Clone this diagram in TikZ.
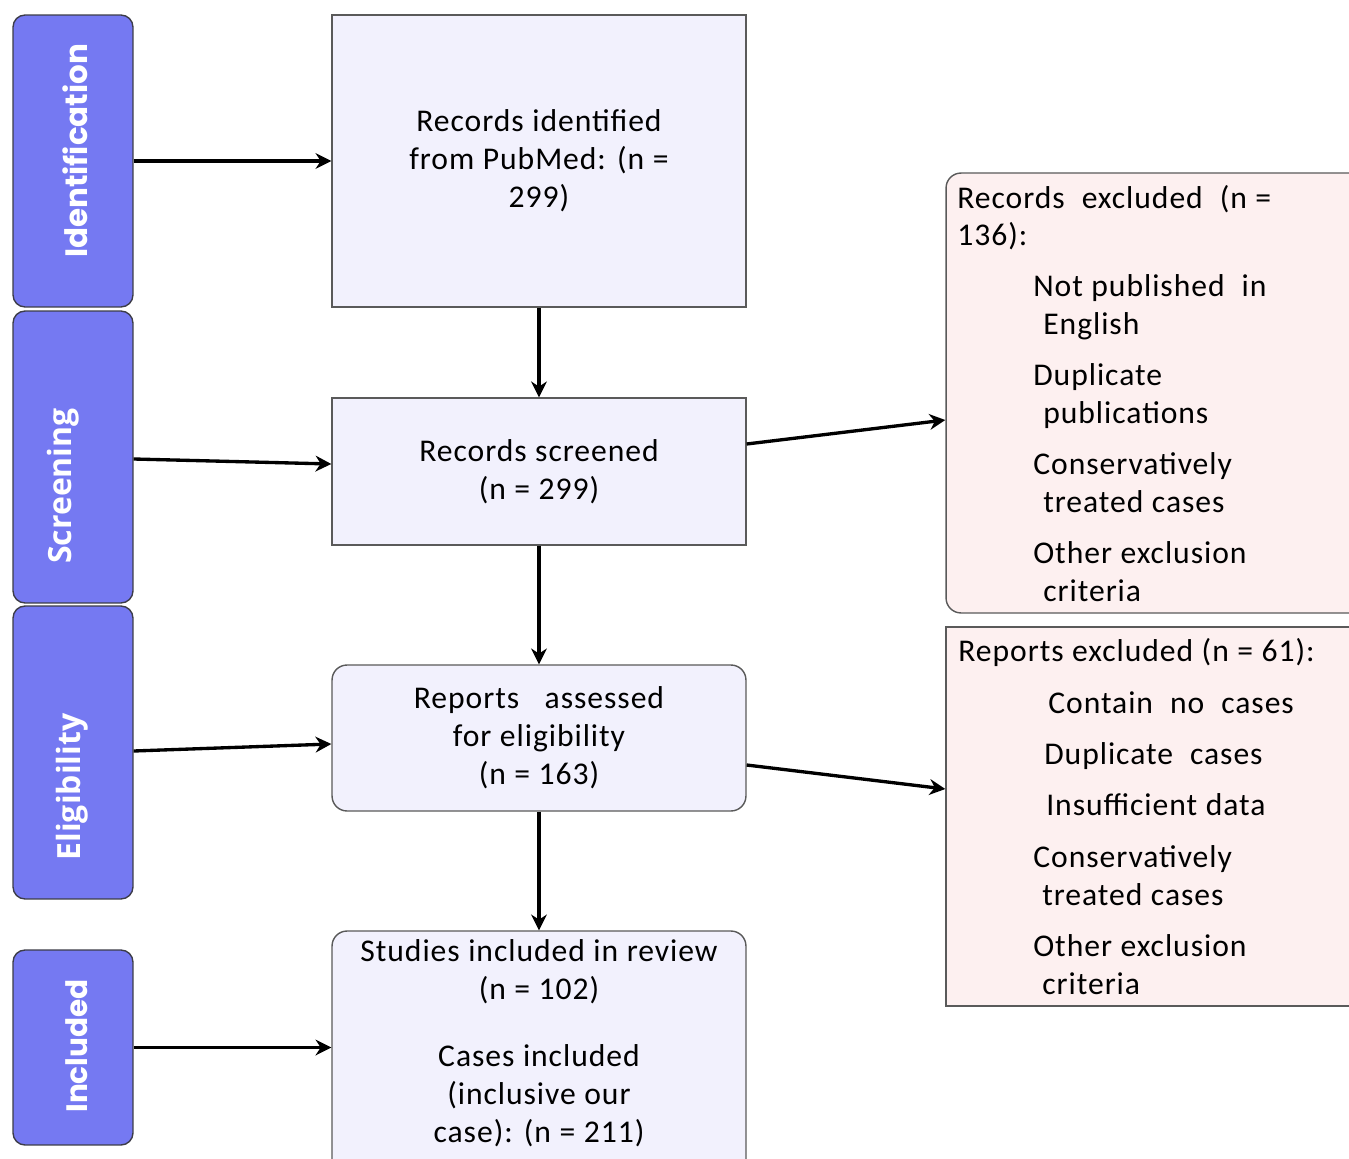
\documentclass[tikz,border=0pt]{standalone}
\usepackage{fontspec}
\setmainfont{Carlito}[LetterSpace=3,WordSpace=1.05]
\newfontfamily\labA{Poppins}
\newfontfamily\labB{Open Sans}
\usetikzlibrary{arrows.meta,calc}
\definecolor{phaseblue}{RGB}{117,121,242}
\definecolor{lav}{RGB}{242,241,253}
\definecolor{pinkbg}{RGB}{253,240,240}
\definecolor{edgegray}{RGB}{90,90,90}
\definecolor{phaseedge}{RGB}{60,60,72}
\newcommand{\mainsize}{\fontsize{18}{21.6}\selectfont}
\tikzset{
  phase/.style={draw=phaseedge, line width=0.8pt, fill=phaseblue, rounded corners=0.24cm,
    minimum width=2.4cm, inner sep=0pt},
  lab/.style={text=white, rotate=90, anchor=base, inner sep=0pt},
  flowbox/.style={draw=edgegray, line width=0.8pt, fill=lav, minimum width=8.28cm,
    inner sep=0pt, align=center, font=\mainsize},
  exbox/.style={draw=edgegray, line width=0.8pt, fill=pinkbg, minimum width=8.38cm, inner sep=0pt},
  exline/.style={anchor=base west, inner sep=0pt, font=\mainsize},
  arr/.style={line width=1.9pt, -{Stealth[length=9pt,width=9pt]}}
}
\begin{document}
\begin{tikzpicture}[x=0.02cm,y=-0.02cm]
\useasboundingbox (0,0) rectangle (1349,1159);
\clip (0,0) rectangle (1349,1159);
\fill[white] (0,0) rectangle (1349,1159);

% phase bars
\node[phase, minimum height=5.84cm] (pid) at (73,161) {};
\node[phase, minimum height=5.84cm] (psc) at (73,457) {};
\node[phase, minimum height=5.86cm] (pel) at (73,752.5) {};
\node[phase, minimum height=3.9cm] (pin) at (73,1047.5) {};
\node[lab, font=\labA\bfseries\fontsize{17.6}{22}\selectfont] (tid) at (87,151) {Identification};
\node[lab, font=\labB\bfseries\fontsize{18.2}{22}\selectfont] (tsc) at (71,486) {Screening};
\node[lab, font=\labB\bfseries\fontsize{18.2}{22}\selectfont] (tel) at (80,787) {Eligibility};
\node[lab, font=\labA\bfseries\fontsize{16.8}{22}\selectfont] (tin) at (87,1046) {Included};

% main boxes
\node[flowbox, minimum height=5.84cm] (b1) at (539,161) {Records identified\\from PubMed: (n =\\299)};
\node[flowbox, minimum height=2.94cm] (b2) at (539,471.5) {Records screened\\(n = 299)};
\node[flowbox, rounded corners=0.3cm, minimum height=2.92cm] (b3) at (539,738) {Reports\ \ \ assessed\\for eligibility\\(n = 163)};
\node[flowbox, rounded corners=0.3cm, minimum height=4.88cm] (b4) at (539,1053) {};
\node[align=center, inner sep=0pt, font=\mainsize] (t4) at (539,1043.5)
  {Studies included in review\\(n = 102)\\[0.58cm]Cases included\\(inclusive our\\case): (n = 211)};

% exclusion boxes
\node[exbox, rounded corners=0.3cm, minimum height=8.8cm] (r1) at (1155.5,393) {};
\node[exbox, minimum height=7.58cm] (r2) at (1155.5,816.5) {};

\node[exline] (r1a) at (957,208) {Records\ \ excluded\ \ (n =};
\node[exline] (r1b) at (957,245) {136):};
\node[exline] (r1c) at (1033,296) {Not published\ \ in};
\node[exline] (r1d) at (1043,334) {English};
\node[exline] (r1e) at (1033,385) {Duplicate};
\node[exline] (r1f) at (1043,423) {publications};
\node[exline] (r1g) at (1033,474) {Conservatively};
\node[exline] (r1h) at (1043,512) {treated cases};
\node[exline] (r1i) at (1033,563) {Other exclusion};
\node[exline] (r1j) at (1043,601) {criteria};

\node[exline] (r2a) at (958,661) {Reports excluded (n = 61):};
\node[exline] (r2b) at (1048,713) {Contain\ \ no\ \ cases};
\node[exline] (r2c) at (1044,764) {Duplicate\ \ cases};
\node[exline] (r2d) at (1046,815) {Insufficient data};
\node[exline] (r2e) at (1033,867) {Conservatively};
\node[exline] (r2f) at (1042,905) {treated cases};
\node[exline] (r2g) at (1033,956) {Other exclusion};
\node[exline] (r2h) at (1042,994) {criteria};

% connectors
\draw[arr] (pid.east) -- (b1.west);
\draw[arr] ($(psc.east)+(0,2)$) -- ($(b2.west)+(0,-7.5)$);
\draw[arr] ($(pel.east)+(0,-1.5)$) -- ($(b3.west)+(0,6)$);
\draw[arr] (pin.east) -- (pin.east -| b4.west);
\draw[arr] (b1.south) -- (b2.north);
\draw[arr] (b2.south) -- (b3.north);
\draw[arr] (b3.south) -- (b4.north);
\draw[arr] ($(b2.east)+(0,-27.5)$) -- ($(r1.west)+(0,27)$);
\draw[arr] ($(b3.east)+(0,27)$) -- ($(r2.west)+(0,-27.5)$);
\end{tikzpicture}
\end{document}
